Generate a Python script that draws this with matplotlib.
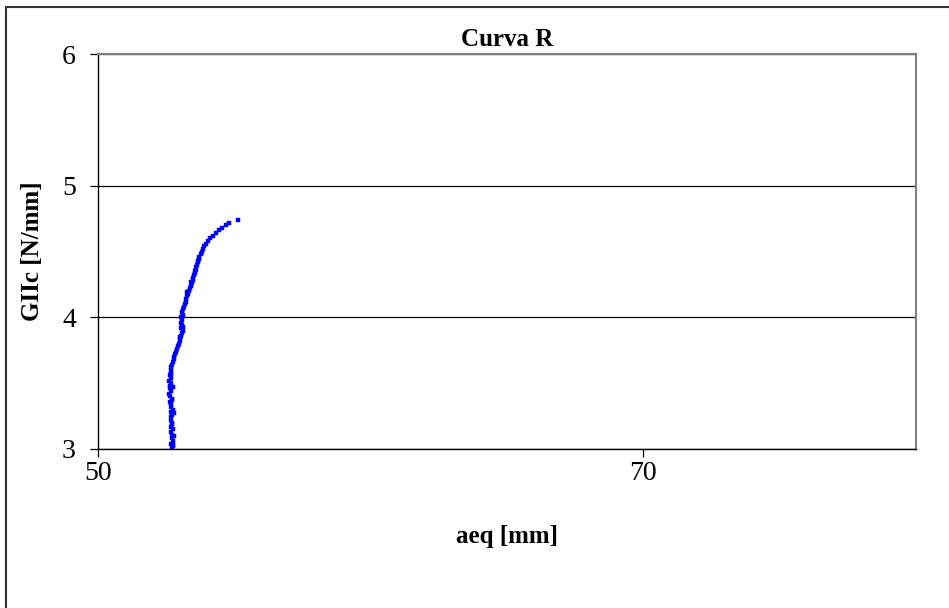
import matplotlib.pyplot as plt
from matplotlib.patches import Rectangle

# crack length aeq [mm] and GIIc [N/mm] read from the R-curve
aeq = [52.70, 52.76, 52.68, 52.74, 52.70, 52.72, 52.67, 52.76, 52.69, 52.72,
       52.68, 52.66, 52.73, 52.68, 52.75, 52.66, 52.69, 52.64, 52.71, 52.65,
       52.62, 52.68, 52.65, 52.63, 52.67, 52.62, 52.66, 52.64, 52.68, 52.66,
       52.69, 52.72, 52.74, 52.77, 52.80, 52.83, 52.85, 52.88, 52.93, 52.97,
       52.99, 53.02, 53.04, 53.08, 53.10, 53.06, 53.09, 53.05, 53.08, 53.06,
       53.10, 53.09, 53.12, 53.16, 53.18, 53.21, 53.24, 53.27, 53.31, 53.35,
       53.38, 53.42, 53.45, 53.47, 53.49, 53.52, 53.54, 53.58, 53.60, 53.63,
       53.66, 53.70, 53.72, 53.76, 53.80, 53.85, 53.89, 53.97, 54.05, 54.11,
       54.23, 54.31, 54.42, 54.55, 54.70, 54.80, 55.15,
       52.74, 52.79, 52.71, 52.77, 52.70, 52.74, 52.68, 53.00, 53.12, 53.28,
       53.40, 53.56, 53.68]
giic = [3.01, 3.02, 3.04, 3.06, 3.08, 3.11, 3.13, 3.15, 3.17, 3.20,
        3.22, 3.24, 3.26, 3.28, 3.30, 3.32, 3.34, 3.36, 3.38, 3.40,
        3.42, 3.44, 3.46, 3.48, 3.50, 3.52, 3.54, 3.56, 3.58, 3.60,
        3.62, 3.64, 3.66, 3.68, 3.70, 3.72, 3.74, 3.76, 3.78, 3.80,
        3.82, 3.84, 3.86, 3.88, 3.90, 3.92, 3.94, 3.96, 3.98, 4.00,
        4.02, 4.04, 4.06, 4.08, 4.10, 4.12, 4.14, 4.16, 4.18, 4.20,
        4.22, 4.24, 4.26, 4.28, 4.30, 4.32, 4.34, 4.36, 4.38, 4.40,
        4.42, 4.44, 4.46, 4.48, 4.50, 4.52, 4.54, 4.56, 4.58, 4.60,
        4.62, 4.64, 4.66, 4.68, 4.70, 4.72, 4.74,
        3.03, 3.10, 3.19, 3.27, 3.37, 3.47, 3.57, 3.85, 3.93, 4.19,
        4.27, 4.35, 4.43]

x_ticks = [50, 70]
y_ticks = [3, 4, 5, 6]

plt.rcParams['font.family'] = ['Liberation Serif', 'DejaVu Serif']

W, H = 949, 608
fig = plt.figure(figsize=(W / 100, H / 100), dpi=100)

# outer chart frame (only top/left visible, like the cropped Excel chart)
fig.patches.append(Rectangle((6 / W, -0.1), 1.2, 1.1 - 7 / H, transform=fig.transFigure,
                             fill=False, edgecolor='#333333', linewidth=1.5))

ax = fig.add_axes([98 / W, 1 - 449 / H, (916 - 98) / W, (449 - 54) / H])
ax.plot(aeq, giic, linestyle='none', marker='s', markersize=3.5,
        markerfacecolor='#0000ff', markeredgecolor='#0000ff', markeredgewidth=0.3)

ax.set_xlim(50, 80)
ax.set_ylim(3, 6)
ax.set_xticks(x_ticks)
ax.set_yticks(y_ticks)
ax.yaxis.grid(True, color='black', linewidth=0.9)
ax.set_axisbelow(True)

for s in ['left', 'bottom']:
    ax.spines[s].set_color('black')
    ax.spines[s].set_linewidth(1.0)
for s in ['top', 'right']:
    ax.spines[s].set_color('#808080')
    ax.spines[s].set_linewidth(1.5)

ax.tick_params(axis='both', direction='out', length=6, width=0.9, labelsize=20, color='black')
ax.tick_params(axis='x', pad=3)
ax.tick_params(axis='y', pad=10)

ax.set_title('Curva R', fontsize=18, fontweight='bold', pad=6)
ax.set_xlabel('aeq [mm]', fontsize=18, fontweight='bold', labelpad=28)
ax.set_ylabel('GIIc [N/mm]', fontsize=18, fontweight='bold', labelpad=13)

fig.savefig('out.png', dpi=100)
